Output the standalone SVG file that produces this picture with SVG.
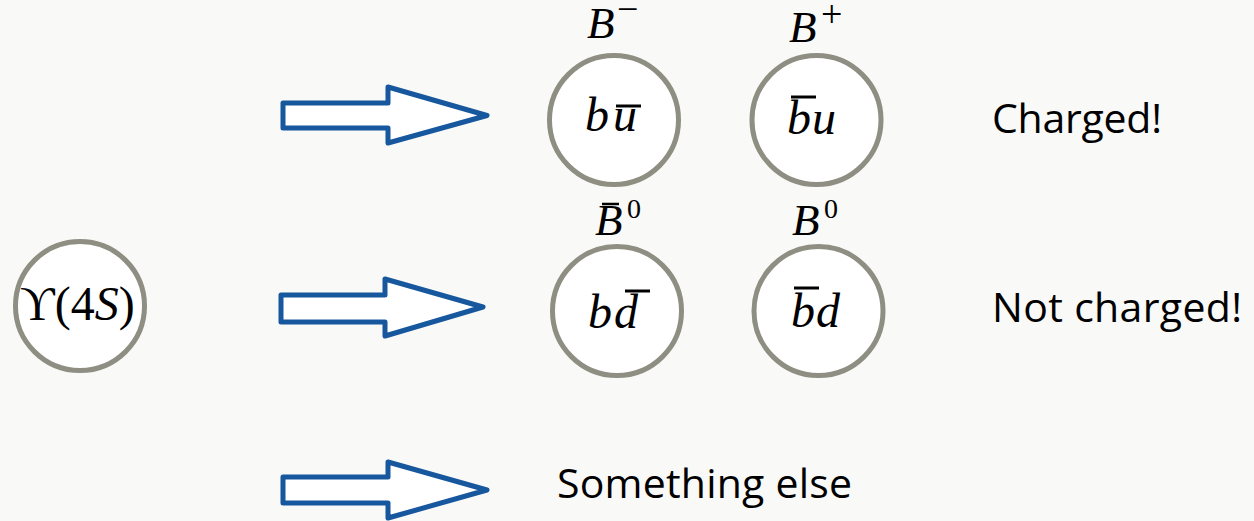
<svg xmlns="http://www.w3.org/2000/svg" width="1254" height="521" viewBox="0 0 1254 521">
<style>
.bg{fill:#F9F9F7}
.node{fill:#FFFFFF;stroke:#8E8E83;stroke-width:5}
.arrow{fill:#FFFFFF;stroke:#17579E;stroke-width:5;stroke-linejoin:round}
.math{font-family:"Liberation Serif","DejaVu Serif",serif;font-style:italic;fill:#000}
.up{font-family:"Liberation Serif","DejaVu Serif",serif;font-style:normal;fill:#000}
.lbl{font-family:"Open Sans","Liberation Sans",sans-serif;font-size:41px;fill:#000}
.bar{stroke:#000;stroke-width:3}
</style>
<rect class="bg" x="0" y="0" width="1254" height="521"/>

<g id="connectors">
<path class="arrow" d="M283,103 L388,103 L388,87 L487,115.5 L388,143 L388,128 L283,128 Z"/>
<path class="arrow" d="M281,295 L385,295 L385,279 L483,307 L385,336 L385,322 L281,322 Z"/>
<path class="arrow" d="M283,477 L388,477 L388,462 L487,490 L388,518 L388,503 L283,503 Z"/>
</g>

<g id="upsilon">
<circle class="node" cx="80" cy="306" r="64.5"/>
<text y="320" font-size="48"><tspan class="up" x="20">ϒ</tspan><tspan class="up">(4</tspan><tspan class="math">S</tspan><tspan class="up">)</tspan></text>
</g>

<g id="B-minus">
<circle class="node" cx="614" cy="120" r="64.5"/>
<text class="math" x="587" y="38" font-size="45">B</text>
<text class="up" x="617" y="22" font-size="38">−</text>
<text class="math" x="585" y="131" font-size="48">b</text>
<text class="math" x="613" y="131" font-size="48">u</text>
<line class="bar" x1="616" y1="106" x2="641" y2="106"/>
</g>

<g id="B-plus">
<circle class="node" cx="816.5" cy="120" r="64.5"/>
<text class="math" x="789" y="42" font-size="45">B</text>
<text class="up" x="821" y="27" font-size="38">+</text>
<text class="math" x="787" y="134" font-size="48">b</text>
<text class="math" x="812" y="134" font-size="48">u</text>
<line class="bar" x1="791" y1="97" x2="816" y2="97"/>
</g>

<g id="B0-bar">
<circle class="node" cx="617" cy="311" r="64.5"/>
<text class="math" x="595" y="235" font-size="45">B</text>
<line x1="602" y1="204" x2="619" y2="204" stroke="#000" stroke-width="2.5"/>
<text class="up" x="627" y="218" font-size="28">0</text>
<text class="math" x="588" y="328" font-size="48">b</text>
<text class="math" x="614" y="328" font-size="48">d</text>
<line class="bar" x1="625" y1="291" x2="650" y2="291"/>
</g>

<g id="B0">
<circle class="node" cx="818.5" cy="311" r="64.5"/>
<text class="math" x="792" y="235" font-size="45">B</text>
<text class="up" x="824" y="218" font-size="28">0</text>
<text class="math" x="791" y="327" font-size="48">b</text>
<text class="math" x="816" y="327" font-size="48">d</text>
<line class="bar" x1="794" y1="288" x2="819" y2="288"/>
</g>

<g id="charged"><text class="lbl" x="992" y="133" textLength="170" lengthAdjust="spacing">Charged!</text></g>
<g id="not-charged"><text class="lbl" x="992" y="322" textLength="250" lengthAdjust="spacing">Not charged!</text></g>
<g id="something-else"><text class="lbl" x="557" y="498" textLength="295" lengthAdjust="spacing">Something else</text></g>
</svg>
